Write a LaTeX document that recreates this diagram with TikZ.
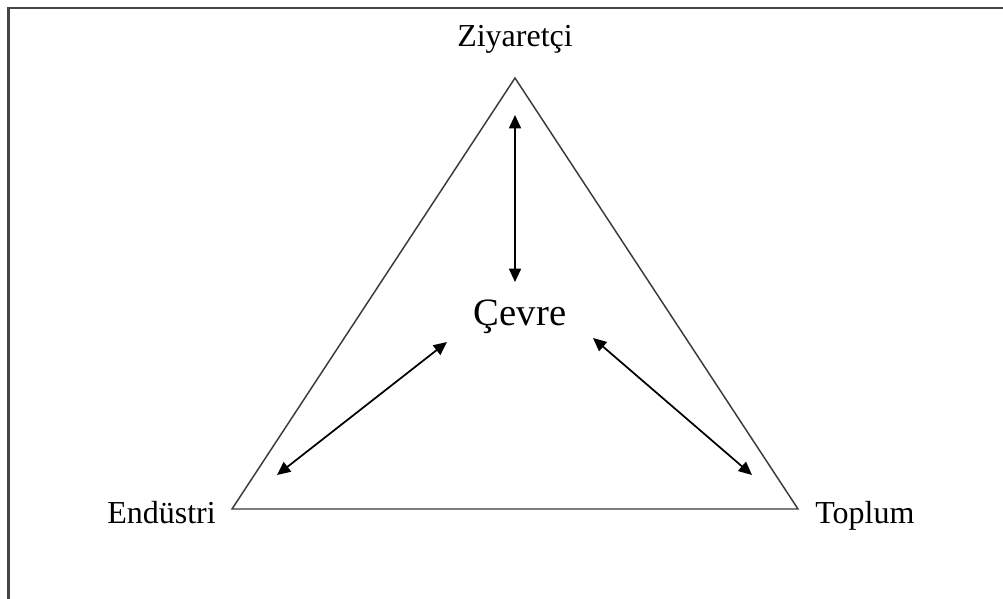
\documentclass[tikz,border=0pt]{standalone}
\usepackage{fontspec}
\setmainfont{Liberation Serif}
\usepackage{xcolor}
\usetikzlibrary{arrows.meta}
\definecolor{framegray}{HTML}{454545}
\definecolor{edgegray}{HTML}{3A3A3A}

\begin{document}
\begin{tikzpicture}[
  x=0.75pt, y=-0.75pt,
  label/.style={
    inner sep=0pt,
    font=\fontsize{24}{28}\selectfont
  },
  centre/.style={
    inner sep=0pt,
    font=\fontsize{29}{34}\selectfont
  },
  side/.style={draw=edgegray, line width=1.1pt},
  arrow/.style={{Triangle[length=10pt,width=9pt]}-{Triangle[length=10pt,width=9pt]}, line width=1.3pt, draw=black}
]
\useasboundingbox (0,0) rectangle (1003,599);
\clip (0,0) rectangle (1003,599);

% outer frame (cut off at right and bottom)
\draw[framegray, line width=2pt] (8.5,8) rectangle (1020,620);

% corners of the triangle
\coordinate (top) at (515,78);
\coordinate (left) at (232,509);
\coordinate (right) at (798,509);

\draw[side, line join=miter] (top) -- (right) -- (left) -- cycle;

% labels
\node[label, anchor=base] (visitor) at (515,47) {Ziyaretçi};
\node[label, anchor=base east] (industry) at (216,523) {Endüstri};
\node[label, anchor=base west] (society) at (815,523) {Toplum};
\node[centre, anchor=base] (environment) at (520,325) {Çevre};

% arrow ends
\coordinate (v1) at (515,115);
\coordinate (v2) at (515,282);
\coordinate (l1) at (277,475);
\coordinate (l2) at (447,342);
\coordinate (r1) at (593,338);
\coordinate (r2) at (752,475);

\draw[arrow] (v1) -- (v2);
\draw[arrow] (l1) -- (l2);
\draw[arrow] (r1) -- (r2);

\end{tikzpicture}
\end{document}
